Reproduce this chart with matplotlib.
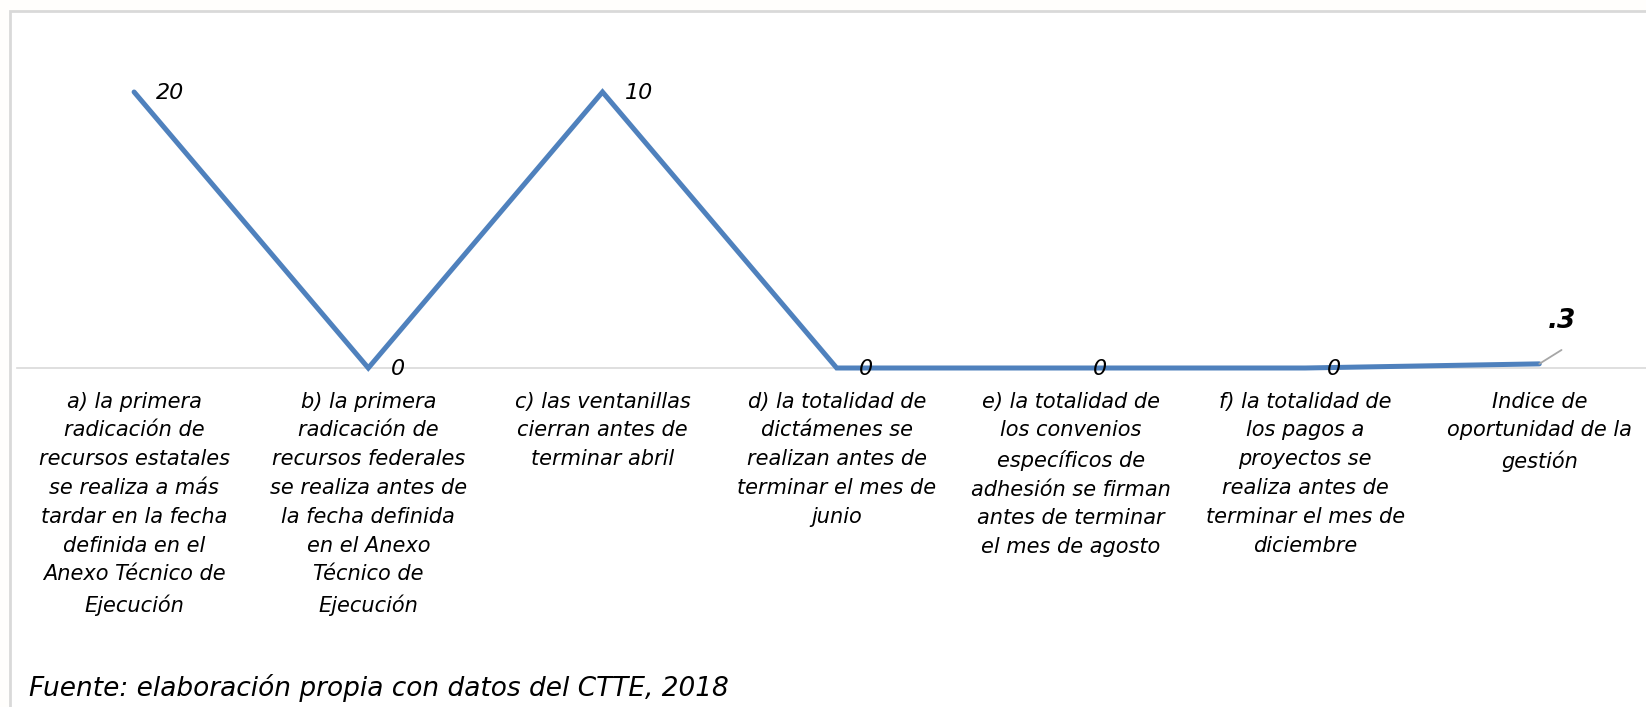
""" Indice de oportunidad de la gestion - grafico de linea """

# * Importar librerias
import matplotlib
matplotlib.use('Agg')
import matplotlib.pyplot as plt
from matplotlib.patches import Rectangle


# * Datos
categorias = [
    'a) la primera\nradicación de\nrecursos estatales\nse realiza a más\ntardar en la fecha\ndefinida en el\nAnexo Técnico de\nEjecución',
    'b) la primera\nradicación de\nrecursos federales\nse realiza antes de\nla fecha definida\nen el Anexo\nTécnico de\nEjecución',
    'c) las ventanillas\ncierran antes de\nterminar abril',
    'd) la totalidad de\ndictámenes se\nrealizan antes de\nterminar el mes de\njunio',
    'e) la totalidad de\nlos convenios\nespecíficos de\nadhesión se firman\nantes de terminar\nel mes de agosto',
    'f) la totalidad de\nlos pagos a\nproyectos se\nrealiza antes de\nterminar el mes de\ndiciembre',
    'Indice de\noportunidad de la\ngestión',
]
# altura de cada punto tal como aparece en el grafico (a y c quedan a la misma altura)
valores = [20, 0, 20, 0, 0, 0, 0.3]
# texto de las etiquetas de datos tal como se imprimen
etiquetas = ['20', '0', '10', '0', '0', '0', '.3']
fuente = 'Fuente: elaboración propia con datos del CTTE, 2018'

AZUL = '#4F81BD'
GRIS = '#D9D9D9'


# * Figura
W, H = 1646, 707
fig = plt.figure(figsize=(W / 100, H / 100), dpi=100)
fig.patch.set_facecolor('#FFFEFC')

# marco del grafico
fig.patches.append(Rectangle((10 / W, -0.1), 1.2, 1 - 10 / H + 0.1 - 0.0015,
                             transform=fig.transFigure, facecolor='white',
                             edgecolor=GRIS, linewidth=2, zorder=-5))

# area de trazado (se extiende mas alla del borde derecho)
x0, paso = 17, 234.2
y_cero, y_top = 368, 10
ax = fig.add_axes([x0 / W, 1 - y_cero / H, 7 * paso / W, (y_cero - y_top) / H])
ax.patch.set_alpha(0)
ax.set_xlim(-0.5, 6.5)
ax.set_ylim(0, 20 * (y_cero - y_top) / (y_cero - 92))

x = list(range(len(valores)))
ax.plot(x, valores, color=AZUL, linewidth=3.6, solid_capstyle='round',
        solid_joinstyle='miter', zorder=3, clip_on=False)

# etiquetas de datos
for i, (v, t) in enumerate(zip(valores, etiquetas)):
    if i == len(valores) - 1:
        # linea guia y etiqueta desplazada
        ax.annotate('', xy=(i, v), xytext=(16, 10), textcoords='offset points',
                    annotation_clip=False,
                    arrowprops=dict(arrowstyle='-', color='#A6A6A6', lw=1.3,
                                    shrinkA=0, shrinkB=0))
        ax.annotate(t, xy=(i, v), xytext=(16, 31), textcoords='offset points',
                    fontsize=19, fontstyle='italic', fontweight='bold',
                    ha='center', va='center', annotation_clip=False)
    else:
        ax.annotate(t, xy=(i, v), xytext=(16, -1), textcoords='offset points',
                    fontsize=16, fontstyle='italic', ha='left', va='center',
                    annotation_clip=False)

# ejes
for lado in ['top', 'left', 'right']:
    ax.spines[lado].set_visible(False)
ax.spines['bottom'].set_color(GRIS)
ax.spines['bottom'].set_linewidth(1.2)
ax.set_yticks([])
ax.set_xticks(x)
ax.set_xticklabels(categorias, fontsize=15, fontstyle='italic',
                   linespacing=1.55)
ax.tick_params(axis='x', length=0, pad=17)

# fuente
fig.text(29 / W, 1 - 688 / H, fuente, fontsize=19, fontstyle='italic',
         va='center', ha='left')

fig.savefig('out.png', dpi=100)
